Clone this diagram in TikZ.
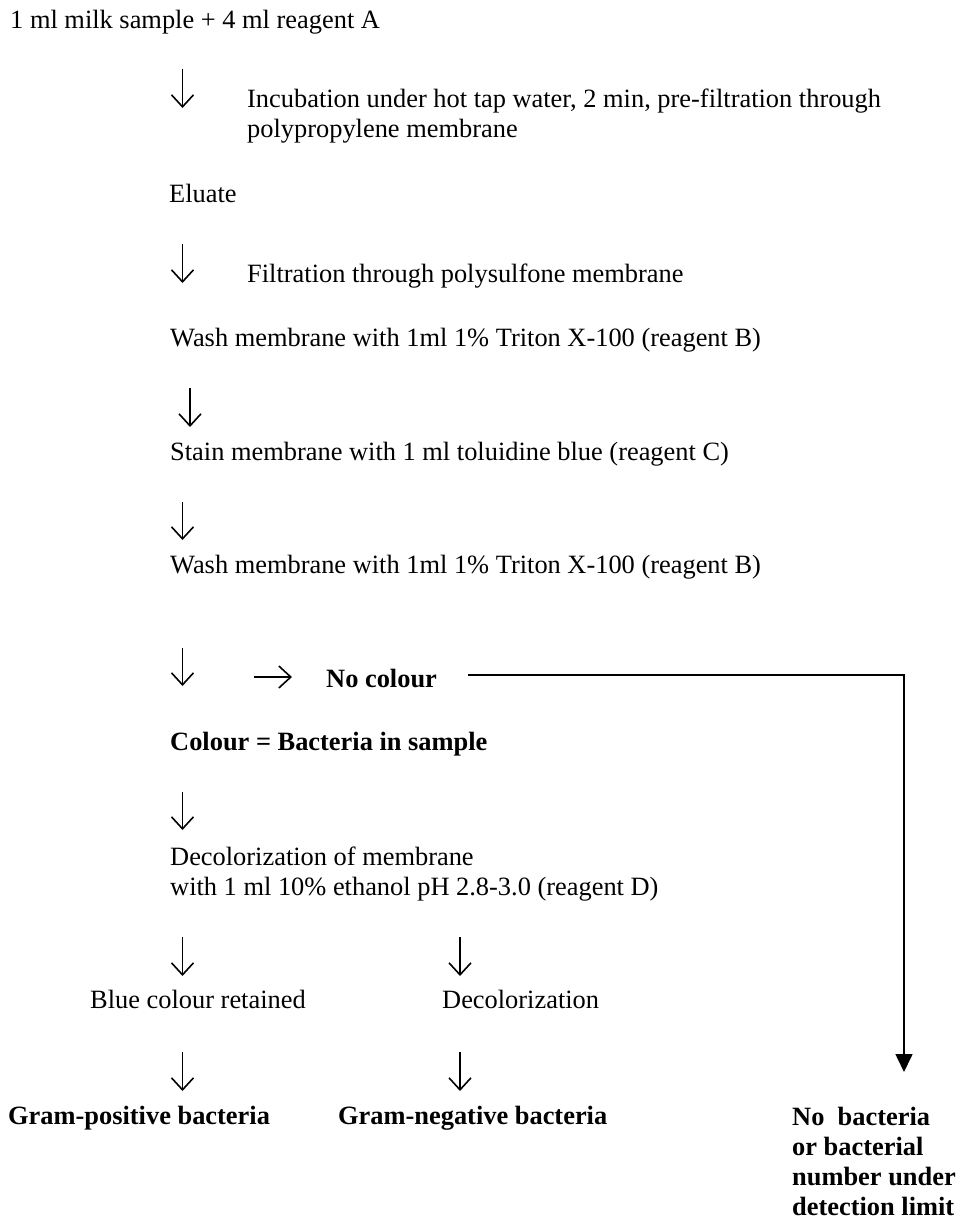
\documentclass[tikz,border=0pt]{standalone}
\usepackage{fontspec}
\setmainfont{Liberation Serif}
\usetikzlibrary{arrows.meta}
\begin{document}
\begin{tikzpicture}[x=1pt,y=-1pt,
  txt/.style={anchor=base west, inner sep=0pt, font=\fontsize{26.4}{30}\selectfont},
  bld/.style={anchor=base west, inner sep=0pt, font=\fontsize{26.4}{30}\selectfont\bfseries},
  downarrow/.style={line width=1.6pt, -{Straight Barb[length=12pt,width=22pt,line width=1.6pt]}},
  bigline/.style={line width=1.6pt, -{Triangle[length=18pt,width=17pt]}}]
\useasboundingbox (0,0) rectangle (959,1219);

% texts
\node[txt] (l1) at (10,28) {1 ml milk sample + 4 ml reagent A};
\node[txt] (inc) at (247,107) {\begin{tabular}[t]{@{}l@{}}Incubation under hot tap water, 2 min, pre-filtration through\\polypropylene membrane\end{tabular}};
\node[txt] (elu) at (169,202) {Eluate};
\node[txt] (fil) at (247,282) {Filtration through polysulfone membrane};
\node[txt] (w1) at (170,346) {Wash membrane with 1ml 1\% Triton X-100 (reagent B)};
\node[txt] (st) at (170,460) {Stain membrane with 1 ml toluidine blue (reagent C)};
\node[txt] (w2) at (170,573) {Wash membrane with 1ml 1\% Triton X-100 (reagent B)};
\node[bld] (noc) at (326,687) {No colour};
\node[bld] (col) at (170,750) {Colour = Bacteria in sample};
\node[txt] (dec) at (170,865) {\begin{tabular}[t]{@{}l@{}}Decolorization of membrane\\with 1 ml 10\% ethanol pH 2.8-3.0 (reagent D)\end{tabular}};
\node[txt] (blue) at (90,1008) {Blue colour retained};
\node[txt] (decz) at (442,1008) {Decolorization};
\node[bld] (gp) at (8,1124) {Gram-positive bacteria};
\node[bld] (gn) at (338,1124) {Gram-negative bacteria};
\node[bld] (nb) at (792,1125) {\begin{tabular}[t]{@{}l@{}}No\ \ bacteria\\or bacterial\\number under\\detection limit\end{tabular}};

% arrow end points
\coordinate (a1t) at (182.5,69);  \coordinate (a1b) at (182.5,108);
\coordinate (a2t) at (182.5,244); \coordinate (a2b) at (182.5,283);
\coordinate (a3t) at (190,388);   \coordinate (a3b) at (190,427);
\coordinate (a4t) at (182.5,502); \coordinate (a4b) at (182.5,540);
\coordinate (a5t) at (182.5,648); \coordinate (a5b) at (182.5,686);
\coordinate (r1l) at (254,677);   \coordinate (r1r) at (292,677);
\coordinate (a6t) at (182.5,792); \coordinate (a6b) at (182.5,830);
\coordinate (a7t) at (182.5,937); \coordinate (a7b) at (182.5,976);
\coordinate (a8t) at (460,937);   \coordinate (a8b) at (460,976);
\coordinate (a9t) at (182.5,1052); \coordinate (a9b) at (182.5,1091);
\coordinate (a10t) at (460,1052); \coordinate (a10b) at (460,1091);
\coordinate (ls) at (468,675);
\coordinate (le) at (904,1072);

\draw[downarrow] (a1t) -- (a1b);
\draw[downarrow] (a2t) -- (a2b);
\draw[downarrow] (a3t) -- (a3b);
\draw[downarrow] (a4t) -- (a4b);
\draw[downarrow] (a5t) -- (a5b);
\draw[downarrow] (r1l) -- (r1r);
\draw[downarrow] (a6t) -- (a6b);
\draw[downarrow] (a7t) -- (a7b);
\draw[downarrow] (a8t) -- (a8b);
\draw[downarrow] (a9t) -- (a9b);
\draw[downarrow] (a10t) -- (a10b);
\draw[bigline] (ls) -| (le);
\end{tikzpicture}
\end{document}
